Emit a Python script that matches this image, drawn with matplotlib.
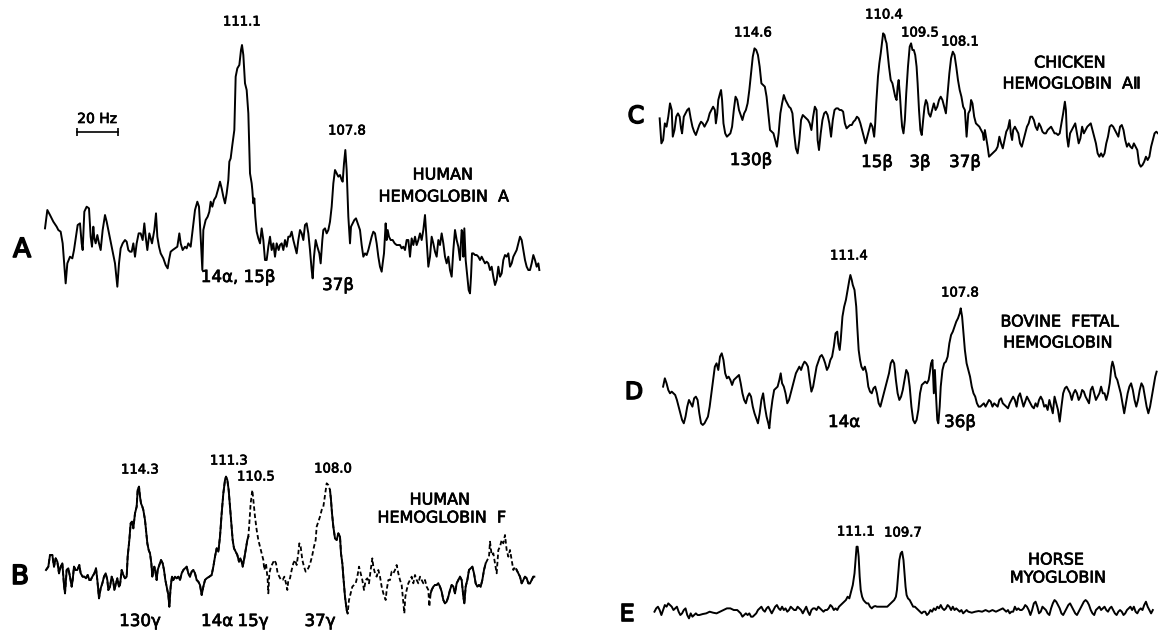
import matplotlib.pyplot as plt
import matplotlib.patheffects as pe
import numpy as np

W, H = 1158, 630

# Recorder traces: (position along sweep, signal height)
trace_a = [
    (15, 205), (22, 260), (30, 245), (40, 225), (50, 210), (55, 200), (62, 195), (68, 160), (75, 65), (77, 40),
    (82, 100), (90, 120), (97, 115), (102, 140), (108, 180), (113, 215), (120, 220), (125, 160), (128, 140), (133, 255),
    (140, 270), (147, 265), (152, 180), (156, 150), (160, 210), (163, 175), (167, 160), (172, 185), (177, 160), (182, 140),
    (188, 200), (195, 245), (200, 225), (205, 200), (210, 175), (217, 140), (225, 100), (232, 30), (237, 100), (242, 145),
    (248, 160), (255, 170), (260, 165), (265, 140), (270, 135), (275, 135), (280, 160), (285, 120), (290, 160), (296, 190),
    (302, 190), (308, 170), (313, 220), (317, 180), (322, 140), (328, 190), (336, 160), (343, 200), (348, 250), (352, 180),
    (357, 150), (362, 130), (370, 115), (377, 95), (383, 85), (387, 110), (392, 135), (398, 140), (405, 145), (412, 150),
    (418, 190), (422, 160), (428, 140), (435, 150), (440, 145), (445, 160), (452, 150), (458, 200), (465, 260), (472, 285),
    (477, 270), (483, 160), (487, 80), (490, 200), (497, 230), (503, 240), (508, 255), (512, 285), (517, 270), (522, 290),
    (528, 300), (535, 325), (540, 345), (545, 325), (550, 300), (555, 280), (560, 310), (565, 350), (568, 405), (572, 415),
    (577, 455), (583, 500), (587, 660), (592, 685), (598, 695), (603, 740), (606, 755), (610, 725), (615, 640), (620, 620),
    (625, 550), (630, 370), (635, 340), (637, 320), (640, 280), (643, 295), (646, 240), (650, 195), (655, 175), (660, 160),
    (665, 205), (670, 170), (675, 110), (680, 110), (685, 150), (690, 180), (695, 140), (700, 160), (705, 120), (710, 160),
    (716, 140), (720, 155), (725, 160), (730, 140), (735, 170), (740, 150), (745, 180), (750, 180), (755, 195), (760, 170),
    (765, 150), (770, 130), (775, 170), (780, 200), (785, 190), (790, 170), (795, 215), (800, 220), (805, 190), (810, 140),
    (815, 80), (818, 55), (822, 120), (827, 170), (832, 150), (838, 130), (842, 100), (847, 170), (850, 200), (855, 205),
    (860, 190), (865, 200), (870, 225), (875, 270), (880, 340), (885, 380), (890, 370), (895, 360), (900, 365), (905, 350),
    (908, 345), (912, 400), (916, 440), (920, 380), (925, 240), (930, 160), (933, 210), (938, 220), (943, 230), (948, 235),
    (955, 215), (960, 200), (965, 155), (970, 120), (975, 130), (980, 125), (985, 140), (990, 160), (995, 180), (1000, 195),
    (1005, 190), (1010, 160), (1015, 120), (1020, 90), (1025, 75), (1028, 100), (1032, 130), (1037, 220), (1040, 170),
    (1043, 200), (1047, 180), (1052, 170), (1058, 170), (1064, 160), (1070, 155), (1075, 155), (1080, 155), (1085, 145),
    (1090, 150), (1095, 140), (1100, 170), (1105, 170), (1110, 120), (1115, 175), (1120, 155), (1125, 180), (1130, 155),
    (1135, 170), (1140, 190), (1145, 170), (1150, 200), (1155, 245), (1160, 170), (1165, 90), (1170, 120), (1175, 180),
    (1180, 160), (1185, 135), (1190, 120), (1195, 170), (1200, 155), (1205, 190), (1210, 160), (1215, 120), (1220, 100),
    (1225, 120), (1230, 80), (1235, 60), (1240, 140), (1245, 200), (1250, 170), (1255, 150), (1260, 110), (1265, 200),
    (1268, 190), (1270, 120), (1273, 205), (1277, 110), (1282, 60), (1286, 20), (1290, 10), (1293, 60), (1296, 130),
    (1300, 130), (1305, 125), (1310, 125), (1315, 120), (1320, 110), (1325, 120), (1330, 110), (1335, 100), (1340, 105),
    (1345, 100), (1350, 80), (1355, 90), (1360, 60), (1365, 35), (1370, 50), (1375, 90), (1380, 60), (1385, 70),
    (1390, 110), (1395, 125), (1400, 120), (1405, 130), (1410, 90), (1415, 100), (1420, 120), (1425, 130), (1430, 140),
    (1435, 160), (1440, 180), (1445, 170), (1450, 140), (1455, 110), (1460, 90), (1465, 80), (1470, 80), (1475, 100),
    (1480, 125), (1485, 110), (1490, 90), (1495, 100), (1498, 80),
]

trace_b = [
    (18, 200), (25, 210), (30, 245), (37, 245), (42, 210), (47, 235), (52, 225), (57, 190), (62, 210), (67, 220),
    (72, 155), (75, 130), (80, 200), (85, 205), (90, 180), (95, 150), (98, 170), (102, 210), (107, 200), (112, 200),
    (118, 215), (122, 190), (128, 180), (133, 180), (138, 175), (143, 185), (148, 170), (152, 170), (157, 180), (163, 190),
    (168, 205), (172, 170), (177, 115), (182, 145), (187, 160), (192, 180), (197, 190), (202, 170), (205, 140), (210, 150),
    (215, 180), (220, 165), (223, 140), (228, 160), (232, 175), (237, 150), (240, 155), (245, 200), (250, 185), (255, 175),
    (260, 180), (263, 240), (268, 290), (272, 340), (276, 345), (280, 325), (285, 370), (290, 390), (293, 440), (297, 450),
    (300, 420), (303, 400), (307, 390), (310, 380), (315, 350), (318, 320), (322, 280), (326, 260), (330, 250), (334, 220),
    (337, 180), (340, 200), (343, 210), (347, 190), (350, 170), (353, 200), (358, 215), (363, 230), (368, 220), (372, 200),
    (376, 170), (380, 150), (385, 125), (388, 90), (392, 150), (396, 180), (400, 170), (405, 180), (410, 175), (415, 180),
    (420, 170), (425, 190), (430, 200), (435, 205), (440, 210), (445, 190), (450, 180), (455, 195), (460, 200), (465, 190),
    (470, 170), (475, 165), (480, 155), (485, 125), (490, 150), (495, 170), (500, 175), (508, 180), (515, 185), (520, 210),
    (525, 240), (530, 265), (535, 255), (540, 300), (545, 370), (550, 430), (555, 470), (558, 480), (562, 470), (566, 440),
    (570, 390), (574, 340), (578, 290), (582, 265), (587, 255), (592, 245), (597, 225), (601, 235), (605, 225), (608, 210),
    (612, 230), (617, 260), (622, 290), (625, 300), (628, 340), (632, 400), (637, 440), (640, 410), (645, 360), (650, 320),
    (655, 290), (660, 270), (665, 250), (670, 230), (673, 200), (678, 220), (683, 170), (685, 130), (688, 190), (693, 210),
    (698, 220), (703, 230), (708, 220), (713, 190), (718, 180), (723, 170), (728, 170), (733, 180), (738, 160), (742, 140),
    (745, 170), (750, 175), (755, 200), (760, 220), (765, 230), (770, 215), (775, 250), (778, 280), (782, 270), (787, 230),
    (792, 210), (797, 195), (802, 200), (807, 210), (812, 225), (817, 245), (822, 270), (827, 290), (830, 330), (835, 345),
    (840, 360), (845, 380), (850, 390), (853, 410), (857, 440), (860, 460), (865, 455), (870, 440), (873, 410), (876, 370),
    (880, 330), (885, 295), (890, 290), (895, 310), (900, 300), (903, 250), (907, 220), (910, 180), (915, 120), (920, 80),
    (923, 70), (927, 110), (932, 130), (937, 150), (942, 155), (947, 160), (952, 180), (957, 210), (962, 190), (967, 170),
    (972, 140), (977, 170), (982, 175), (987, 160), (992, 200), (997, 235), (1000, 210), (1005, 190), (1010, 180),
    (1015, 200), (1020, 180), (1025, 150), (1030, 130), (1037, 110), (1040, 140), (1045, 170), (1050, 170), (1055, 195),
    (1060, 190), (1065, 200), (1070, 215), (1075, 190), (1080, 170), (1085, 155), (1090, 100), (1093, 70), (1096, 120),
    (1100, 140), (1105, 160), (1110, 170), (1115, 180), (1120, 160), (1125, 185), (1130, 170), (1135, 160), (1140, 180),
    (1145, 170), (1150, 160), (1155, 170), (1160, 150), (1165, 140), (1168, 90), (1172, 130), (1175, 140), (1180, 150),
    (1185, 155), (1190, 155), (1195, 160), (1200, 150), (1205, 135), (1210, 110), (1215, 100), (1220, 105), (1225, 120),
    (1230, 140), (1235, 155), (1240, 150), (1245, 130), (1250, 160), (1255, 170), (1260, 180), (1265, 170), (1270, 120),
    (1273, 100), (1277, 150), (1282, 170), (1287, 200), (1292, 205), (1297, 210), (1302, 190), (1307, 160), (1312, 150),
    (1317, 155), (1322, 150), (1327, 170), (1332, 200), (1337, 220), (1342, 230), (1347, 240), (1350, 285), (1355, 245),
    (1360, 250), (1365, 220), (1370, 190), (1375, 260), (1380, 270), (1385, 290), (1390, 280), (1395, 305), (1400, 260),
    (1405, 240), (1410, 260), (1415, 230), (1420, 200), (1425, 210), (1430, 200), (1435, 190), (1440, 180), (1445, 160),
    (1450, 170), (1455, 180), (1460, 175), (1465, 160), (1470, 160), (1475, 170), (1480, 180), (1483, 180),
]
# parts of trace B where the pen line is continuous (rest is broken)
b_solid_spans = [(0, 625), (870, 925), (1170, 1340), (1430, 1500)]

trace_c = [
    (115, 145), (120, 70), (125, 80), (130, 130), (135, 120), (140, 150), (145, 190), (150, 170), (153, 90), (158, 110),
    (163, 150), (168, 160), (173, 150), (177, 115), (180, 100), (185, 150), (190, 160), (195, 170), (200, 175), (205, 145),
    (210, 120), (215, 105), (220, 95), (225, 110), (230, 125), (235, 135), (240, 130), (245, 120), (250, 130), (255, 140),
    (260, 160), (265, 170), (270, 180), (275, 170), (278, 130), (282, 160), (285, 200), (290, 220), (293, 230), (296, 200),
    (300, 130), (305, 100), (310, 90), (315, 95), (320, 100), (325, 120), (330, 170), (335, 210), (340, 200), (345, 170),
    (350, 155), (355, 140), (360, 160), (365, 170), (370, 190), (375, 230), (380, 280), (385, 330), (390, 355), (395, 350),
    (400, 335), (405, 300), (410, 250), (415, 245), (420, 240), (425, 210), (430, 160), (435, 110), (440, 105), (445, 100),
    (450, 80), (455, 60), (460, 100), (465, 160), (470, 190), (475, 215), (480, 200), (485, 190), (490, 180), (495, 175),
    (500, 160), (505, 100), (510, 55), (515, 40), (520, 80), (525, 140), (530, 155), (535, 150), (540, 145), (545, 140),
    (550, 130), (555, 110), (560, 150), (565, 180), (570, 170), (573, 80), (577, 50), (582, 100), (587, 140), (592, 160),
    (597, 165), (602, 155), (607, 130), (612, 90), (617, 140), (622, 170), (627, 175), (632, 175), (637, 170), (642, 170),
    (647, 165), (652, 130), (657, 115), (662, 120), (667, 125), (672, 125), (677, 135), (682, 140), (687, 150), (692, 145),
    (697, 130), (702, 110), (707, 90), (712, 70), (717, 90), (722, 110), (727, 130), (732, 120), (737, 90), (740, 130),
    (743, 190), (748, 270), (752, 310), (756, 340), (760, 375), (763, 400), (767, 395), (770, 380), (773, 370), (776, 340),
    (780, 300), (785, 260), (790, 250), (795, 225), (798, 210), (802, 200), (805, 240), (808, 260), (812, 210), (815, 160),
    (818, 120), (822, 100), (826, 140), (830, 220), (835, 300), (840, 360), (844, 370), (848, 350), (852, 350), (856, 335),
    (860, 300), (863, 250), (867, 170), (871, 110), (875, 95), (879, 140), (883, 180), (887, 200), (891, 190), (895, 160),
    (900, 150), (905, 170), (910, 190), (915, 170), (920, 180), (925, 200), (930, 210), (935, 200), (940, 180), (945, 160),
    (950, 220), (955, 280), (960, 325), (965, 345), (970, 335), (975, 300), (980, 260), (985, 230), (990, 210), (995, 180),
    (1000, 170), (1005, 90), (1010, 160), (1015, 170), (1018, 200), (1022, 190), (1027, 150), (1032, 130), (1037, 125),
    (1042, 120), (1047, 110), (1052, 100), (1055, 80), (1058, 110), (1062, 85), (1066, 60), (1070, 30), (1075, 35),
    (1080, 40), (1085, 45), (1090, 50), (1095, 60), (1100, 90), (1105, 70), (1110, 55), (1115, 80), (1120, 105),
    (1125, 115), (1130, 140), (1133, 100), (1137, 80), (1140, 110), (1145, 120), (1150, 110), (1155, 100), (1160, 70),
    (1165, 60), (1170, 80), (1175, 100), (1180, 120), (1185, 130), (1190, 150), (1195, 150), (1200, 140), (1205, 120),
    (1210, 110), (1215, 130), (1220, 120), (1225, 105), (1230, 100), (1235, 100), (1240, 110), (1245, 115), (1250, 120),
    (1255, 110), (1260, 100), (1265, 100), (1270, 95), (1275, 100), (1280, 130), (1285, 160), (1290, 195), (1293, 170),
    (1296, 90), (1300, 60), (1305, 100), (1310, 110), (1315, 120), (1320, 130), (1325, 100), (1330, 70), (1335, 85),
    (1340, 120), (1345, 100), (1350, 110), (1355, 120), (1360, 125), (1365, 130), (1370, 110), (1375, 90), (1380, 70),
    (1385, 40), (1390, 30), (1395, 40), (1400, 30), (1405, 40), (1410, 70), (1415, 90), (1420, 120), (1425, 125),
    (1430, 120), (1435, 110), (1440, 100), (1445, 90), (1450, 120), (1455, 125), (1460, 110), (1465, 80), (1470, 60),
    (1475, 70), (1480, 60), (1485, 55), (1490, 70), (1495, 60), (1500, 50), (1505, 10), (1510, 0), (1515, 5), (1520, 15),
    (1525, 30), (1530, 20), (1535, 30), (1540, 60), (1545, 80), (1550, 100), (1555, 105), (1560, 100),
]

trace_d = [
    (125, 170), (130, 195), (135, 180), (140, 160), (145, 150), (150, 155), (155, 150), (160, 145), (165, 130), (170, 110),
    (175, 90), (180, 70), (185, 60), (190, 80), (195, 110), (200, 130), (205, 120), (210, 110), (215, 135), (220, 140),
    (225, 130), (230, 90), (235, 60), (240, 55), (245, 60), (250, 70), (255, 80), (260, 110), (265, 150), (270, 190),
    (275, 230), (280, 240), (285, 220), (290, 260), (295, 270), (300, 250), (305, 210), (310, 195), (315, 200), (320, 190),
    (325, 175), (330, 190), (335, 195), (340, 200), (345, 205), (350, 180), (355, 150), (360, 130), (365, 120), (370, 140),
    (375, 150), (380, 140), (385, 110), (390, 90), (395, 75), (400, 60), (405, 90), (410, 130), (415, 150), (420, 110),
    (425, 80), (430, 60), (433, 45), (437, 90), (442, 130), (447, 160), (452, 165), (457, 170), (462, 190), (466, 210),
    (470, 180), (475, 170), (480, 150), (485, 120), (490, 130), (495, 150), (500, 170), (505, 190), (510, 210), (515, 220),
    (520, 230), (525, 220), (530, 235), (535, 245), (540, 240), (545, 230), (550, 190), (555, 155), (560, 170), (565, 200),
    (570, 230), (575, 245), (580, 260), (585, 265), (590, 255), (595, 240), (600, 220), (605, 230), (610, 250), (615, 260),
    (620, 290), (625, 330), (630, 335), (633, 300), (637, 280), (640, 310), (645, 380), (650, 410), (655, 430), (660, 460),
    (665, 490), (668, 505), (672, 490), (675, 475), (680, 460), (685, 410), (688, 350), (692, 280), (696, 250), (700, 230),
    (705, 220), (710, 230), (715, 210), (720, 170), (725, 155), (730, 150), (735, 165), (740, 170), (745, 150), (750, 120),
    (755, 110), (760, 130), (765, 150), (770, 170), (775, 190), (780, 210), (785, 240), (790, 250), (795, 240), (800, 190),
    (805, 150), (810, 130), (815, 140), (820, 160), (825, 190), (830, 220), (835, 210), (840, 170), (845, 110), (850, 70),
    (855, 60), (860, 70), (865, 100), (870, 150), (875, 175), (880, 180), (885, 185), (890, 180), (895, 190), (898, 210),
    (902, 240), (906, 250), (910, 150), (913, 220), (917, 130), (920, 70), (923, 60), (927, 110), (930, 170), (935, 220),
    (940, 240), (945, 245), (950, 260), (955, 300), (960, 325), (965, 335), (970, 350), (975, 365), (980, 375), (985, 390),
    (988, 405), (992, 380), (996, 330), (1000, 280), (1005, 240), (1010, 220), (1015, 200), (1020, 170), (1025, 150),
    (1030, 140), (1035, 120), (1040, 110), (1045, 110), (1050, 115), (1055, 120), (1060, 110), (1065, 120), (1070, 130),
    (1075, 125), (1080, 110), (1085, 120), (1090, 115), (1095, 110), (1100, 130), (1105, 135), (1110, 120), (1115, 115),
    (1120, 110), (1125, 105), (1130, 120), (1135, 130), (1140, 140), (1145, 130), (1150, 110), (1155, 140), (1160, 150),
    (1165, 130), (1170, 110), (1175, 125), (1180, 140), (1185, 130), (1190, 120), (1195, 110), (1200, 105), (1205, 120),
    (1210, 110), (1215, 130), (1220, 140), (1225, 130), (1230, 110), (1235, 115), (1240, 100), (1245, 130), (1250, 110),
    (1255, 90), (1260, 140), (1265, 120), (1270, 100), (1275, 65), (1280, 110), (1285, 150), (1290, 165), (1295, 170),
    (1300, 160), (1305, 150), (1310, 130), (1315, 150), (1320, 160), (1325, 150), (1330, 130), (1335, 140), (1340, 160),
    (1345, 155), (1350, 140), (1355, 130), (1360, 120), (1365, 160), (1370, 170), (1375, 150), (1380, 130), (1385, 140),
    (1390, 150), (1395, 170), (1400, 150), (1405, 150), (1410, 130), (1415, 150), (1420, 180), (1425, 230), (1428, 245),
    (1432, 230), (1437, 200), (1442, 190), (1447, 170), (1452, 150), (1457, 120), (1462, 90), (1467, 120), (1472, 150),
    (1477, 170), (1482, 180), (1487, 160), (1492, 130), (1497, 110), (1502, 130), (1507, 160), (1512, 180), (1517, 170),
    (1522, 140), (1527, 110), (1532, 90), (1537, 110), (1542, 140), (1547, 170), (1552, 200), (1556, 215),
]

trace_e = [
    (100, 45), (105, 55), (110, 60), (115, 50), (120, 35), (125, 50), (130, 65), (135, 60), (140, 70), (145, 65),
    (150, 60), (155, 50), (160, 55), (165, 60), (170, 45), (175, 35), (180, 40), (185, 50), (190, 55), (195, 35),
    (200, 25), (205, 40), (210, 30), (215, 35), (220, 40), (225, 35), (230, 35), (240, 38), (250, 40), (260, 45),
    (270, 42), (280, 40), (290, 45), (300, 50), (310, 55), (320, 55), (330, 50), (340, 50), (345, 45), (350, 40),
    (355, 30), (360, 35), (365, 40), (370, 35), (375, 40), (380, 30), (385, 30), (390, 35), (395, 40), (400, 50),
    (405, 55), (410, 60), (415, 50), (420, 45), (425, 55), (430, 60), (435, 50), (440, 40), (445, 50), (450, 60),
    (455, 65), (460, 55), (465, 50), (470, 60), (475, 50), (480, 55), (485, 45), (490, 50), (495, 60), (500, 55),
    (505, 50), (510, 50), (515, 60), (520, 55), (525, 50), (530, 40), (535, 50), (540, 60), (545, 45), (550, 35),
    (555, 50), (560, 55), (565, 55), (570, 50), (575, 60), (580, 55), (585, 50), (590, 45), (595, 50), (600, 50),
    (605, 55), (610, 65), (615, 60), (620, 50), (625, 55), (630, 50), (635, 60), (640, 65), (645, 70), (650, 75),
    (655, 80), (660, 90), (665, 85), (670, 105), (675, 125), (680, 160), (683, 200), (686, 240), (689, 240), (692, 210),
    (695, 150), (698, 110), (702, 90), (706, 80), (710, 75), (715, 70), (720, 70), (725, 60), (730, 55), (735, 60),
    (740, 62), (745, 60), (750, 60), (760, 60), (770, 60), (775, 60), (780, 65), (785, 70), (790, 75), (795, 80),
    (800, 90), (803, 110), (806, 150), (810, 200), (814, 220), (818, 225), (822, 200), (825, 160), (828, 120), (831, 95),
    (835, 85), (840, 80), (845, 70), (850, 60), (855, 60), (860, 55), (865, 50), (870, 45), (875, 40), (880, 45),
    (885, 45), (890, 35), (895, 40), (900, 50), (905, 45), (910, 55), (915, 50), (920, 60), (925, 55), (930, 65),
    (935, 55), (940, 50), (945, 55), (950, 65), (955, 60), (960, 50), (965, 60), (970, 50), (975, 55), (980, 50),
    (985, 45), (990, 50), (995, 40), (1000, 45), (1005, 50), (1010, 45), (1020, 42), (1030, 45), (1040, 47), (1050, 45),
    (1060, 50), (1070, 45), (1080, 50), (1090, 45), (1100, 50), (1110, 55), (1115, 50), (1120, 45), (1125, 50),
    (1130, 40), (1135, 45), (1140, 45), (1145, 60), (1150, 50), (1155, 55), (1160, 50), (1165, 50), (1170, 55),
    (1175, 65), (1180, 60), (1185, 50), (1190, 35), (1195, 50), (1200, 70), (1205, 75), (1210, 60), (1215, 40),
    (1220, 45), (1225, 60), (1230, 55), (1235, 50), (1240, 40), (1245, 35), (1250, 55), (1255, 70), (1260, 80),
    (1265, 75), (1270, 65), (1275, 55), (1280, 40), (1285, 35), (1290, 45), (1295, 55), (1300, 65), (1305, 70),
    (1310, 60), (1315, 50), (1320, 40), (1325, 35), (1330, 45), (1335, 55), (1340, 65), (1345, 75), (1350, 80),
    (1355, 75), (1360, 65), (1365, 50), (1370, 40), (1375, 35), (1380, 50), (1385, 55), (1390, 60), (1395, 50),
    (1400, 55), (1405, 60), (1410, 50), (1415, 45), (1420, 55), (1425, 60), (1430, 50), (1435, 40), (1440, 35),
    (1445, 45), (1450, 50), (1455, 45), (1460, 35), (1465, 40), (1470, 50), (1475, 55), (1480, 60), (1485, 50),
    (1490, 60), (1495, 45), (1500, 40), (1505, 50), (1510, 55), (1515, 50), (1520, 65), (1525, 75), (1530, 60),
    (1535, 50), (1540, 40), (1545, 50),
]

plt.rcParams['font.family'] = ['DejaVu Sans']

fig = plt.figure(figsize=(W / 100, H / 100), dpi=100)
fig.patch.set_facecolor('white')


def add_panel(box, xlim, ylim):
    # box is (left, top, right, bottom) in pixels from the top-left corner
    x0, y0, x1, y1 = box
    ax = fig.add_axes([x0 / W, 1 - y1 / H, (x1 - x0) / W, (y1 - y0) / H])
    ax.set_xlim(*xlim)
    ax.set_ylim(*ylim)
    ax.axis('off')
    return ax


def label(x, y, s, size, stroke=0.5, **kw):
    # a thin outline thickens the glyphs a little, like the hand lettering
    fig.text(x / W, 1 - y / H, s, fontsize=size, ha='center', va='center',
             path_effects=[pe.withStroke(linewidth=stroke, foreground='black')], **kw)


def draw_trace(ax, pts, **kw):
    x, y = np.array(pts, dtype=float).T
    ax.plot(x, y, color='black', lw=1.4, clip_on=False, **kw)
    return x, y


# Panel A - human hemoglobin A
ax_a = add_panel((40, 30, 540, 296.7), (0, 1500), (0, 800))
draw_trace(ax_a, trace_a)
ax_a.plot([110, 235], [495, 495], color='black', lw=1.2, marker='|', ms=6, mew=1.2, clip_on=False)
label(97, 119, '20 Hz', 10)
label(22, 250, 'A', 19, stroke=1.2)
label(242, 22, '111.1', 9.5)
label(347, 131, '107.8', 9.5)
label(238, 277, '14α, 15β', 12)
label(338, 285, '37β', 12)
label(443, 175, 'HUMAN', 11.5)
label(444, 197, 'HEMOGLOBIN  A', 11.5)

# Panel B - human hemoglobin F (broken pen line over much of the sweep)
ax_b = add_panel((40, 450, 540, 630), (0, 1500), (20, 560))
bx, by = np.array(trace_b, dtype=float).T
ax_b.plot(bx, by, color='black', lw=1.3, ls=(0, (2.5, 1.5)), clip_on=False)
for lo, hi in b_solid_spans:
    m = (bx >= lo) & (bx <= hi)
    ax_b.plot(bx[m], by[m], color='black', lw=1.4, clip_on=False)
label(20, 577, 'B', 19, stroke=1.2)
label(140, 470, '114.3', 9.5)
label(229, 461, '111.3', 9.5)
label(256, 477, '110.5', 9.5)
label(333, 469, '108.0', 9.5)
label(440, 500, 'HUMAN', 11.5)
label(442, 518, 'HEMOGLOBIN  F', 11.5)
label(140, 621, '130γ', 12)
label(217, 621, '14α', 12)
label(253, 621, '15γ', 12)
label(320, 621, '37γ', 12)

# Panel C - chicken hemoglobin AII
ax_c = add_panel((620, 0, 1158, 166.7), (0, 1560), (0, 500))
draw_trace(ax_c, trace_c)
label(636, 116, 'C', 17, stroke=1.2)
label(753, 33, '114.6', 9.5)
label(884, 15, '110.4', 9.5)
label(920, 33, '109.5', 9.5)
label(960, 42, '108.1', 9.5)
label(751, 160, '130β', 12)
label(877, 162, '15β', 12)
label(920, 162, '3β', 12)
label(965, 162, '37β', 12)
label(1070, 63, 'CHICKEN', 11.5)
label(1072, 84, 'HEMOGLOBIN  AⅡ', 11.5)

# Panel D - bovine fetal hemoglobin
ax_d = add_panel((620, 260, 1158, 443.3), (0, 1560), (0, 550))
draw_trace(ax_d, trace_d)
label(634, 392, 'D', 17, stroke=1.2)
label(849, 256, '111.4', 9.5)
label(960, 293, '107.8', 9.5)
label(844, 422, '14α', 12)
label(960, 422, '36β', 12)
label(1060, 322, 'BOVINE  FETAL', 11.5)
label(1058, 343, 'HEMOGLOBIN', 11.5)

# Panel E - horse myoglobin
ax_e = add_panel((620, 526.7, 1158, 626.7), (0, 1560), (0, 300))
draw_trace(ax_e, trace_e)
label(627, 614, 'E', 17, stroke=1.2)
label(856, 532, '111.1', 9.5)
label(903, 533, '109.7', 9.5)
label(1056, 560, 'HORSE', 11.5)
label(1058, 578, 'MYOGLOBIN', 11.5)

fig.savefig('out.png', dpi=100, facecolor='white')
